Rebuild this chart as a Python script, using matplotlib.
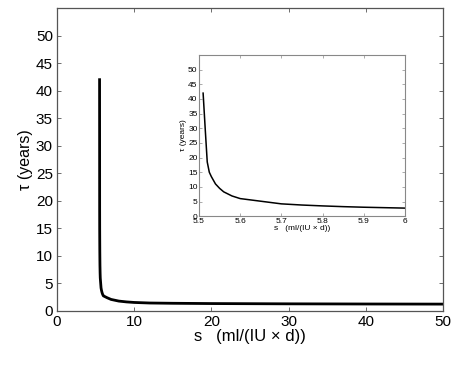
import matplotlib
matplotlib.use('Agg')
import matplotlib.pyplot as plt

plt.rcParams['font.family'] = ['Liberation Sans', 'DejaVu Sans']

# data
s = [5.51, 5.515, 5.52, 5.525, 5.53, 5.54, 5.55, 5.56, 5.58, 5.6, 5.65, 5.7,
     5.75, 5.8, 5.85, 5.9, 5.95, 6.0, 6.5, 7, 8, 9, 10, 12, 15, 20, 30, 40, 50]
tau = [42, 30, 18.5, 15, 13.5, 11, 9.5, 8.3, 6.9, 6.0, 5.1, 4.2,
       3.8, 3.5, 3.25, 3.05, 2.9, 2.75, 2.4, 2.1, 1.8, 1.65, 1.55, 1.45,
       1.4, 1.35, 1.3, 1.27, 1.25]

main_xticks = [0, 10, 20, 30, 40, 50]
main_yticks = list(range(0, 55, 5))
inset_xticks = [5.5, 5.6, 5.7, 5.8, 5.9, 6.0]
inset_xlabels = ['5.5', '5.6', '5.7', '5.8', '5.9', '6']

fig = plt.figure(figsize=(4.6, 3.67), dpi=100)

ax = fig.add_axes([0.124, 0.1526, 0.839, 0.8254])
ax.plot(s, tau, color='black', lw=2)
ax.set_xlim(0, 50)
ax.set_ylim(0, 55)
ax.set_xticks(main_xticks)
ax.set_yticks(main_yticks)
ax.tick_params(direction='in', length=3, width=0.6, top=True, right=True,
               labelsize=11, pad=3, color='#555555')
for sp in ax.spines.values():
    sp.set_color('#555555')
    sp.set_linewidth(0.9)
ax.set_xlabel('s   (ml/(IU \u00d7 d))', fontsize=12, labelpad=0)
ax.set_ylabel('\u03c4 (years)', fontsize=11.5, labelpad=2)

# inset
ins = fig.add_axes([0.4326, 0.411, 0.4478, 0.439])
ins.plot(s, tau, color='black', lw=1.1)
ins.set_xlim(5.5, 6.0)
ins.set_ylim(0, 55)
ins.set_xticks(inset_xticks)
ins.set_xticklabels(inset_xlabels)
ins.set_yticks(main_yticks)
ins.tick_params(direction='in', length=2, width=0.5, top=True, right=True,
                labelsize=6, pad=1, color='#888888')
for sp in ins.spines.values():
    sp.set_color('#888888')
    sp.set_linewidth(0.8)
ins.set_xlabel('s   (ml/(IU \u00d7 d))', fontsize=6, labelpad=0)
ins.set_ylabel('\u03c4 (years)', fontsize=6, labelpad=1)

fig.savefig('out.png', dpi=100)
